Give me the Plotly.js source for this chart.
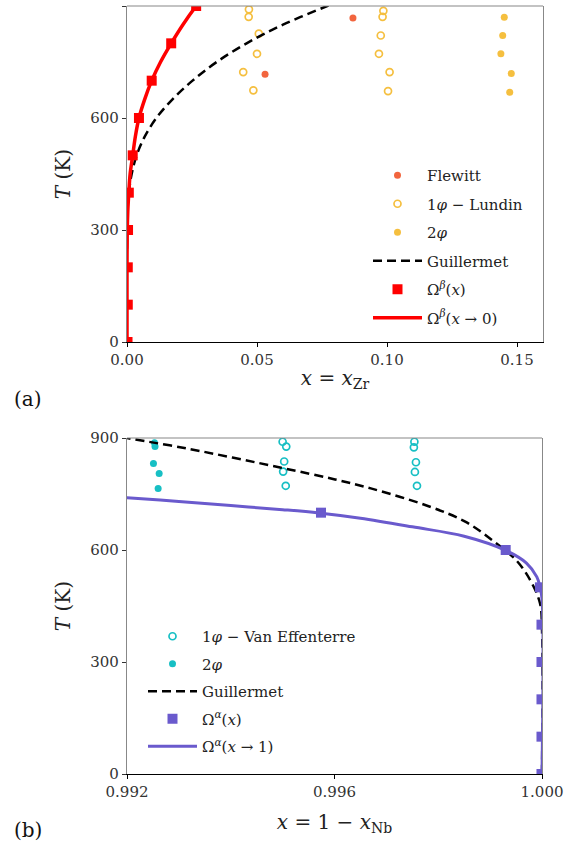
<!DOCTYPE html>
<html>
<head>
<meta charset="utf-8">
<script src="https://cdn.plot.ly/plotly-3.0.1.min.js"></script>
<style>html,body{margin:0;padding:0;background:#fff;}#chart{width:578px;height:847px;}</style>
</head>
<body>
<div id="chart"></div>
<script>
// ---------- Panel (a): beta phase, x = x_Zr ----------
var flewittX = [0.0531, 0.0869];
var flewittT = [717, 868];
var lundin1X = [0.0469, 0.0468, 0.0507, 0.0500, 0.0447, 0.0486, 0.0986, 0.0983, 0.0976, 0.0969, 0.1010, 0.1004];
var lundin1T = [891, 871, 826, 772, 723, 674, 887, 871, 821, 772, 723, 672];
var lundin2X = [0.1451, 0.1445, 0.1438, 0.1478, 0.1472];
var lundin2T = [870, 821, 772, 719, 669];
var guilBetaT = [250, 300, 350, 400, 450, 500, 550, 600, 650, 700, 750, 800, 850, 900, 920];
var guilBetaX = [0.0000, 0.0001, 0.0002, 0.0007, 0.0018, 0.0037, 0.0068, 0.0113, 0.0175, 0.0252, 0.0345, 0.0460, 0.0600, 0.0770, 0.0840];
var omegaBetaT = [0, 100, 200, 300, 400, 500, 600, 700, 800, 900];
var omegaBetaX = [0.0002, 0.0003, 0.0003, 0.0004, 0.0007, 0.0022, 0.0046, 0.0095, 0.0170, 0.0266];
var lineBetaT = [0, 100, 200, 300, 350, 400, 450, 500, 550, 600, 650, 700, 750, 800, 850, 900, 930];
var lineBetaX = [0.0000, 0.0000, 0.0000, 0.0001, 0.0003, 0.0007, 0.0012, 0.0022, 0.0032, 0.0046, 0.0068, 0.0095, 0.0129, 0.0170, 0.0215, 0.0266, 0.0300];

// ---------- Panel (b): alpha phase, x = 1 - x_Nb ----------
var vanEff1X = [0.99500, 0.99507, 0.99503, 0.99501, 0.99506, 0.99754, 0.99753, 0.99757, 0.99755, 0.99759];
var vanEff1T = [890, 877, 837, 810, 772, 890, 875, 835, 809, 772];
var vanEff2X = [0.99253, 0.99254, 0.99251, 0.99262, 0.99260];
var vanEff2T = [887, 877, 832, 805, 765];
var guilAlphaX = [0.99190, 0.99200, 0.99315, 0.99495, 0.99601, 0.99670, 0.99780, 0.99852, 0.99906, 0.99950, 0.99977, 0.99996, 1.00000, 1.00000];
var guilAlphaT = [903, 900, 872, 821, 789, 765, 718, 676, 624, 573, 520, 458, 386, 0];
var omegaAlphaT = [0, 100, 200, 300, 400, 500, 600, 700];
var omegaAlphaX = [0.99999, 0.99999, 0.99999, 0.99999, 0.99999, 0.99996, 0.99930, 0.99574];
var lineAlphaX = [0.9918, 0.9920, 0.9930, 0.9940, 0.9950, 0.9957, 0.9965, 0.9975, 0.9985, 0.9993, 0.9997, 0.9999, 0.99996, 1.0, 1.0];
var lineAlphaT = [742, 740, 730, 719, 708, 699, 685, 662, 637, 599, 565, 528, 502, 470, 0];

var SERIF = "DejaVu Serif";
var cTomato = "#f2653e", cGold = "#f5bf3f", cCyan = "#17bfc4", cRed = "#ff0000", cPurple = "#6a5acd";

var traces = [
  {x: flewittX, y: flewittT, mode: "markers", type: "scatter", name: "Flewitt",
   marker: {color: cTomato, size: 7}, xaxis: "x", yaxis: "y", legend: "legend", legendgroup: "a1"},
  {x: lundin1X, y: lundin1T, mode: "markers", type: "scatter", name: "1<i>φ</i> − Lundin",
   marker: {color: cGold, size: 7, symbol: "circle-open", line: {width: 1.7}},
   xaxis: "x", yaxis: "y", legend: "legend", legendgroup: "a2"},
  {x: lundin2X, y: lundin2T, mode: "markers", type: "scatter", name: "2<i>φ</i>",
   marker: {color: cGold, size: 7}, xaxis: "x", yaxis: "y", legend: "legend", legendgroup: "a3"},
  {x: guilBetaX, y: guilBetaT, mode: "lines", type: "scatter", name: "Guillermet",
   line: {color: "#000", width: 2.5, dash: "9px,5px", shape: "spline", smoothing: 1}, xaxis: "x", yaxis: "y", legend: "legend", legendgroup: "a4"},
  {x: omegaBetaX, y: omegaBetaT, mode: "markers", type: "scatter", name: "Ω<sup><i>β</i></sup>(<i>x</i>)",
   marker: {color: cRed, size: 10, symbol: "square"}, xaxis: "x", yaxis: "y", legend: "legend", legendgroup: "a5"},
  {x: lineBetaX, y: lineBetaT, mode: "lines", type: "scatter", name: "Ω<sup><i>β</i></sup>(<i>x</i> → 0)",
   line: {color: cRed, width: 3.5, shape: "spline", smoothing: 1}, xaxis: "x", yaxis: "y", legend: "legend", legendgroup: "a6"},

  {x: vanEff1X, y: vanEff1T, mode: "markers", type: "scatter", name: "1<i>φ</i> − Van Effenterre",
   marker: {color: cCyan, size: 7, symbol: "circle-open", line: {width: 1.7}},
   xaxis: "x2", yaxis: "y2", legend: "legend2", legendgroup: "b1"},
  {x: vanEff2X, y: vanEff2T, mode: "markers", type: "scatter", name: "2<i>φ</i>",
   marker: {color: cCyan, size: 7}, xaxis: "x2", yaxis: "y2", legend: "legend2", legendgroup: "b2"},
  {x: guilAlphaX, y: guilAlphaT, mode: "lines", type: "scatter", name: "Guillermet",
   line: {color: "#000", width: 2.5, dash: "9px,5px", shape: "spline", smoothing: 1}, xaxis: "x2", yaxis: "y2", legend: "legend2", legendgroup: "b3"},
  {x: omegaAlphaX, y: omegaAlphaT, mode: "markers", type: "scatter", name: "Ω<sup><i>α</i></sup>(<i>x</i>)",
   marker: {color: cPurple, size: 10, symbol: "square"}, xaxis: "x2", yaxis: "y2", legend: "legend2", legendgroup: "b4"},
  {x: lineAlphaX, y: lineAlphaT, mode: "lines", type: "scatter", name: "Ω<sup><i>α</i></sup>(<i>x</i> → 1)",
   line: {color: cPurple, width: 3, shape: "spline", smoothing: 1}, xaxis: "x2", yaxis: "y2", legend: "legend2", legendgroup: "b5"}
];

var W = 578, H = 847;
function px(v){return v / W;}
function py(v){return 1 - v / H;}

var tickFont = {family: SERIF, size: 15, color: "#333"};
var titleFont = {family: SERIF, size: 20, color: "#222"};
var legFont = {family: SERIF, size: 15, color: "#222"};

function xax(domain, range, dtick, fmt, title, anchor, standoff){
  return {domain: domain, range: range, dtick: dtick, tick0: range[0], tickformat: fmt, anchor: anchor,
    showgrid: false, zeroline: false, showline: true, linecolor: "#000", linewidth: 1.2,
    ticks: "outside", ticklen: 4, tickcolor: "#000", tickfont: tickFont,
    title: {text: title, font: titleFont, standoff: standoff}};
}
function yax(domain, anchor){
  return {domain: domain, range: [0, 900], dtick: 300, tick0: 0, anchor: anchor,
    showgrid: false, zeroline: false, showline: true, mirror: true, linecolor: "#888", linewidth: 1.2,
    ticks: "outside", ticklen: 4, tickcolor: "#333", tickfont: tickFont,
    title: {text: "<i>T</i> (K)", font: titleFont, standoff: 14}};
}

var layout = {
  width: W, height: H,
  margin: {l: 0, r: 0, t: 0, b: 0},
  paper_bgcolor: "#fff", plot_bgcolor: "#fff",
  showlegend: true,
  xaxis: xax([px(127), px(543)], [0, 0.16], 0.05, ".2f", "<i>x</i> = <i>x</i><sub>Zr</sub>", "y", 2),
  yaxis: yax([py(342), py(6)], "x"),
  xaxis2: xax([px(127), px(542)], [0.992, 1.000], 0.004, ".3f", "<i>x</i> = 1 − <i>x</i><sub>Nb</sub>", "y2", 14),
  yaxis2: yax([py(774), py(438)], "x2"),
  legend: {x: px(368), y: py(159), xanchor: "left", yanchor: "top", bgcolor: "rgba(0,0,0,0)", itemwidth: 49,
    font: legFont, traceorder: "grouped", tracegroupgap: 6},
  legend2: {x: px(143), y: py(620), xanchor: "left", yanchor: "top", bgcolor: "rgba(0,0,0,0)", itemwidth: 49,
    font: legFont, traceorder: "grouped", tracegroupgap: 5},
  shapes: [
    {type: "line", xref: "paper", yref: "paper", x0: px(127), x1: px(543), y0: py(6), y1: py(6), line: {color: "#888", width: 1.2}},
    {type: "line", xref: "paper", yref: "paper", x0: px(127), x1: px(542), y0: py(438), y1: py(438), line: {color: "#888", width: 1.2}}
  ],
  annotations: [
    {text: "(a)", xref: "paper", yref: "paper", x: px(12), y: py(399), xanchor: "left", yanchor: "middle", showarrow: false, font: {family: SERIF, size: 20, color: "#111"}},
    {text: "(b)", xref: "paper", yref: "paper", x: px(12), y: py(830), xanchor: "left", yanchor: "middle", showarrow: false, font: {family: SERIF, size: 20, color: "#111"}}
  ]
};

Plotly.newPlot("chart", traces, layout, {displayModeBar: false, staticPlot: true});
</script>
</body>
</html>
